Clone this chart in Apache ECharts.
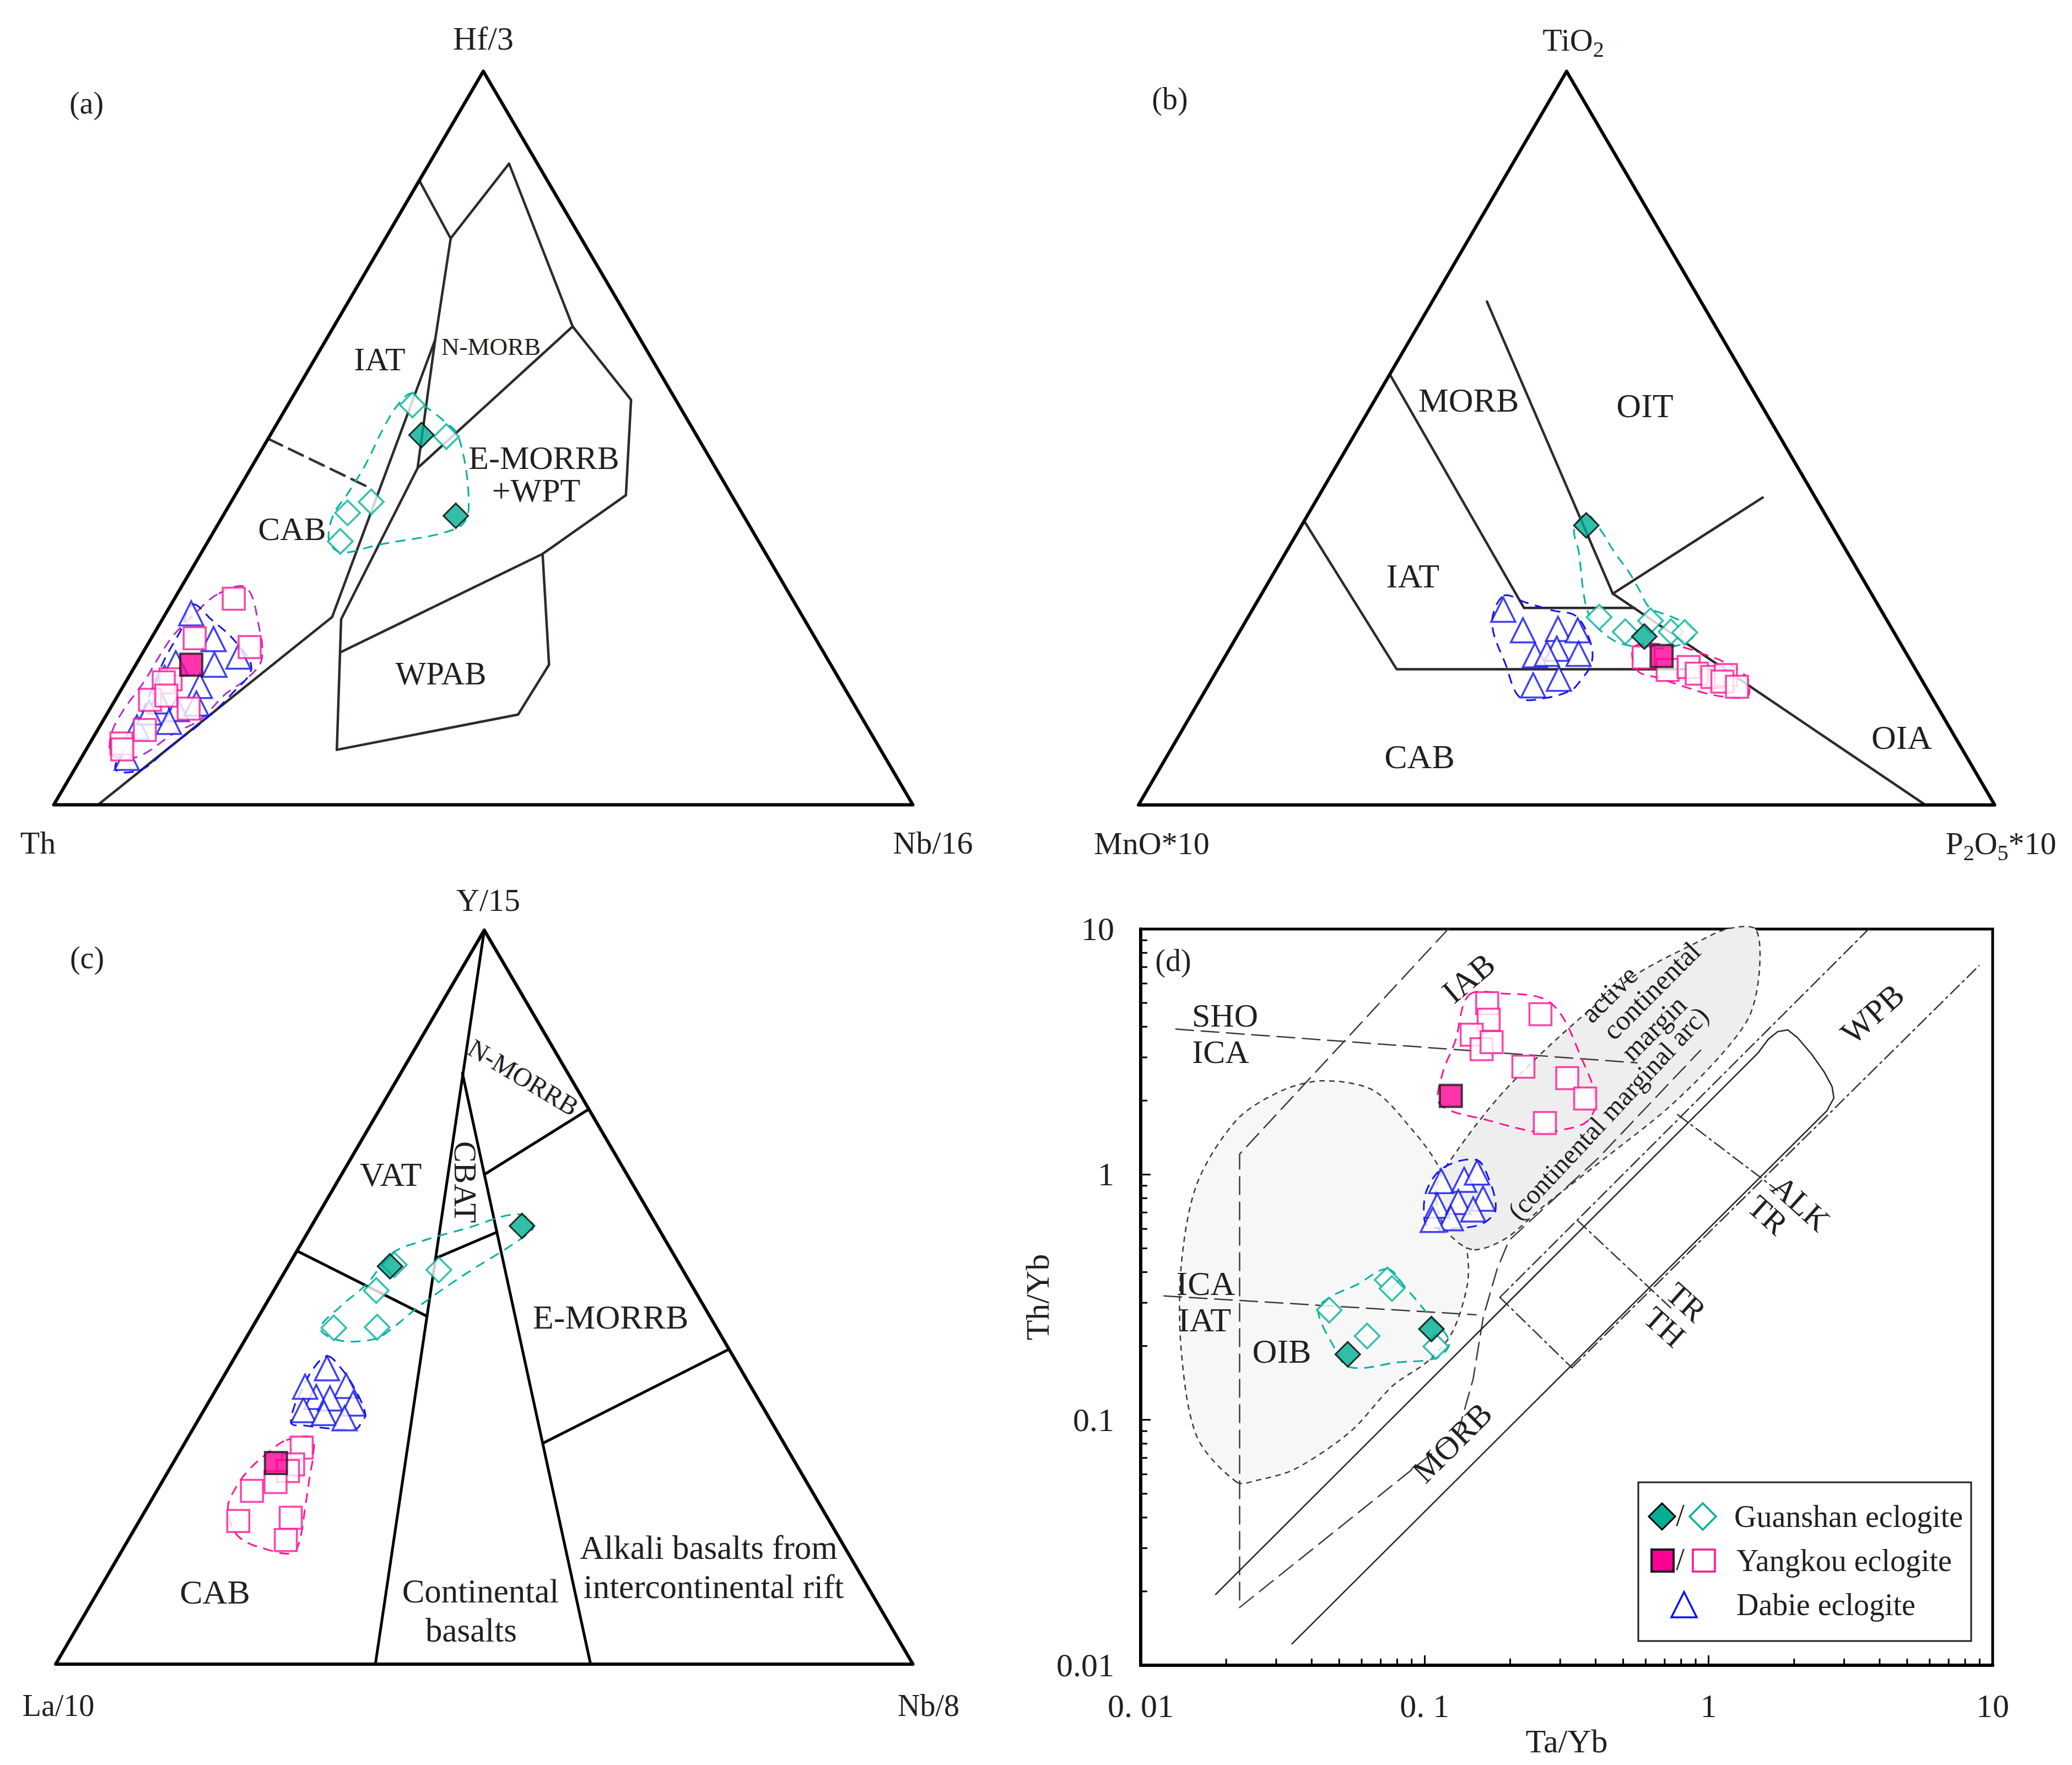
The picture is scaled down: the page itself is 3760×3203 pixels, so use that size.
<!DOCTYPE html>
<html>
<head>
<meta charset="utf-8">
<title>Tectonic discrimination diagrams</title>
<script src="https://cdn.jsdelivr.net/npm/echarts@6.0.0/dist/echarts.min.js"></script>
<style>
html,body{margin:0;padding:0;background:#fff;}
#chart{width:3760px;height:3203px;}
</style>
</head>
<body>
<div id="chart"></div>
<script>
// ===================== DATA =====================
// Ternary points are [top %, right %] (left = 100 - top - right)

// ---- Panel (a): Hf/3 (top) - Th (left) - Nb/16 (right)
const aFieldMain  = [[0,5.15],[25.6,19.6],[63.4,12.7],[77.2,7.6],[85.1,0]];
const aFieldNMorb = [[77.2,7.6],[87.4,9.3],[65.2,27.8],[55.2,39.6],[42.2,45.5],[34.2,39.8]];
const aFieldB     = [[63.4,12.7],[45.9,19.4],[25.3,20.8],[7.5,29.2]];
const aFieldE     = [[45.9,19.4],[65.2,27.8]];
const aFieldWpab  = [[20.8,23.0],[34.2,39.8],[19.1,48.1],[12.3,47.9],[7.5,29.2]];
const aFieldDash  = [[49.9,0],[43.2,15.2]];
const aGuanFilled = [[50.4,17.6],[39.4,27.1]];
const aGuanOpen   = [[54.5,14.5],[50.2,20.6],[41.3,16.3],[39.8,14.3],[35.9,15.4]];
const aYangFilled = [[19.1,6.45]];
const aYangOpen   = [[28.1,6.9],[22.7,5.05],[21.5,12.05],[17.1,5.05],[16.7,4.45],[14.3,4.05],[14.9,5.65],[13.1,9.15],[10.2,5.5],[8.35,3.7],[7.55,4.2]];
const aDabie      = [[26.1,2.95],[22.6,7.3],[19.3,4.55],[19.1,9.15],[20.2,11.4],[16.2,8.9],[17.3,4.25],[14.1,5.25],[13.05,7.8],[13.8,9.7],[11.3,7.75],[10.55,4.4],[6.4,5.3],[12.6,4.8]];
const aEnvGuan  = [[56.1,13.6],[54.5,15.8],[52.5,19.0],[50.1,22.1],[40.4,28.1],[37.7,28.1],[35.4,19.9],[34.4,16.3],[35.9,14.1],[39.4,12.8],[42.4,13.0],[46.4,13.1],[51.4,12.7],[54.6,12.8]];
const aEnvYang  = [[28.8,4.8],[29.6,7.6],[24.2,11.8],[19.8,14.3],[17.3,13.95],[15.1,12.45],[11.55,11.2],[9.8,9.15],[6.55,6.5],[6.8,3.4],[9.55,1.9],[12.8,1.65],[16.6,2.1],[22.6,2.3],[25.8,3.3]];
const aEnvDabie = [[27.3,2.55],[25.3,5.65],[22.3,9.95],[18.6,13.7],[15.1,13.15],[11.3,11.65],[7.8,9.5],[4.8,7.8],[4.8,4.8],[8.55,4.2],[13.05,3.9],[19.6,3.0],[23.6,2.9]];

// ---- Panel (b): TiO2 (top) - MnO*10 (left) - P2O5*10 (right)
const bFieldMorb = [[58.7,0],[26.85,31.6],[26.85,44.5]];
const bFieldIat  = [[38.7,0],[18.5,20.9],[18.5,59.2]];
const bFieldOit  = [[68.6,6.4],[28.8,41.0]];
const bFieldOia  = [[28.8,41.0],[41.9,51.95]];
const bFieldCab  = [[28.8,41.0],[0,91.9]];
const bGuanFilled = [[38.1,33.25],[22.96,47.6]];
const bGuanOpen   = [[25.6,41.0],[23.6,45.05],[25.1,47.25],[23.6,50.4],[23.5,52.05]];
const bYangFilled = [[20.3,50.95]];
const bYangOpen   = [[20.1,48.95],[18.4,52.6],[18.8,54.85],[17.9,56.25],[17.45,58.3],[17.7,59.75],[16.8,59.8],[16.1,61.85]];
const bDabie      = [[26.6,29.3],[23.8,33.0],[24.0,37.0],[23.8,39.4],[20.4,36.1],[21.3,38.2],[20.6,37.4],[20.6,41.1],[16.3,37.95],[17.2,40.5]];
const bEnvGuan  = [[37.6,32.1],[34.6,34.1],[26.85,38.9],[24.1,41.65],[22.3,44.55],[21.6,47.0],[21.3,48.75],[21.7,52.05],[23.1,53.35],[24.6,51.7],[25.8,49.05],[26.85,46.3],[29.35,43.8],[31.6,41.55],[34.6,38.2],[37.6,35.1],[39.6,32.5]];
const bEnvYang  = [[21.6,47.1],[21.7,51.8],[20.6,55.6],[19.6,58.4],[18.3,61.05],[17.1,62.6],[14.8,63.75],[14.7,61.5],[15.2,58.7],[16.1,55.75],[17.3,52.15],[18.3,49.15]];
const bEnvDabie = [[28.5,28.4],[27.6,31.4],[26.5,35.15],[25.7,38.3],[22.1,41.75],[19.3,43.25],[16.6,43.1],[15.6,42.7],[14.6,40.4],[14.6,37.3],[19.1,33.35],[24.8,28.9]];

// ---- Panel (c): Y/15 (top) - La/10 (left) - Nb/8 (right)
const cField1    = [[100,0],[0,37.3]];
const cField2    = [[80.5,7.2],[0,62.4]];
const cFieldVat  = [[56.3,0],[47.4,19.6]];
const cFieldCbat = [[55.3,16.7],[58.85,22.05]];
const cFieldNm   = [[66.7,16.66],[75.6,24.4]];
const cFieldEm   = [[30.1,41.8],[42.9,57.1]];
const cGuanFilled = [[59.7,24.55],[54.2,11.9]];
const cGuanOpen   = [[54.4,12.3],[53.7,17.85],[50.9,11.95],[45.8,9.55],[45.9,14.55]];
const cYangFilled = [[27.4,12.0]];
const cYangOpen   = [[29.5,13.95],[27.2,14.1],[26.3,13.95],[24.8,13.25],[23.6,11.1],[19.5,11.55],[19.95,17.45],[16.9,18.4]];
const cDabie      = [[40.3,11.5],[37.9,14.95],[36.4,12.2],[36.2,13.9],[35.5,16.95],[34.6,11.6],[34.2,14.2],[37.8,10.2],[33.5,16.95]];
const cEnvGuan  = [[61.3,23.2],[59.65,25.9],[57.6,25.05],[53.3,21.35],[48.96,18.15],[45.7,16.35],[44.3,15.15],[44.1,11.05],[45.7,8.05],[48.6,8.8],[51.8,10.4],[55.95,11.25],[57.6,13.85],[59.4,18.3]];
const cEnvDabie = [[41.95,10.7],[40.3,13.15],[37.5,16.15],[34.05,19.1],[32.8,19.2],[32.1,19.05],[32.1,15.95],[32.5,12.85],[32.8,11.1],[35.7,10.15],[36.75,10.1],[40.0,9.9]];
const cEnvYang  = [[30.5,11.65],[30.8,14.5],[28.1,15.95],[26.0,16.7],[21.3,18.45],[17.0,20.0],[15.2,20.1],[15.4,17.6],[17.4,12.6],[21.3,9.45],[23.8,9.0],[26.3,9.25],[28.85,10.4]];

// ---- Panel (d): Ta/Yb (x) vs Th/Yb (y)
const dXTickValues = [0.01, 0.1, 1, 10];
const dXTickLabels = ['0. 01', '0. 1', '1', '10'];
const dYTickValues = [0.01, 0.1, 1, 10];
const dYTickLabels = ['0.01', '0.1', '1', '10'];
const dMinorTicks = [0.02,0.03,0.04,0.05,0.06,0.07,0.08,0.09,0.2,0.3,0.4,0.5,0.6,0.7,0.8,0.9,2,3,4,5,6,7,8,9];
const dGuanFilled = [[0.0536,0.185],[0.1056,0.2345]];
const dGuanOpen   = [[0.0461,0.280],[0.0738,0.3715],[0.0767,0.343],[0.0627,0.2196],[0.1095,0.199]];
const dYangFilled = [[0.1236,2.09]];
const dYangOpen   = [[0.166,4.99],[0.168,4.27],[0.2556,4.50],[0.1464,3.71],[0.1586,3.24],[0.172,3.46],[0.2226,2.75],[0.3177,2.47],[0.3674,2.04],[0.265,1.62]];
const dDabie      = [[0.1143,0.940],[0.1377,0.951],[0.1529,1.019],[0.1108,0.746],[0.1313,0.773],[0.1605,0.797],[0.1482,0.720],[0.1236,0.663],[0.1068,0.653]];
const dEnvGuan  = [[0.0738,0.412],[0.0849,0.350],[0.103,0.268],[0.1221,0.208],[0.1108,0.1795],[0.0809,0.1717],[0.0542,0.1642],[0.0475,0.202],[0.0421,0.280],[0.0463,0.3155],[0.0576,0.355]];
const dEnvYang  = [[0.1429,5.37],[0.182,5.48],[0.278,4.99],[0.363,2.84],[0.40,1.987],[0.372,1.639],[0.299,1.512],[0.2587,1.477],[0.1673,1.662],[0.1135,1.929],[0.1149,2.52],[0.1281,3.49]];
const dEnvDabie = [[0.1163,1.065],[0.1518,1.147],[0.1673,0.975],[0.1778,0.724],[0.1613,0.634],[0.1345,0.606],[0.103,0.615],[0.0994,0.682],[0.1018,0.866]];
const dOibField = [[0.0218,0.0557],[0.0158,0.085],[0.0139,0.19],[0.0139,0.43],[0.0158,0.92],[0.0218,1.67],[0.0315,2.2],[0.0442,2.41],[0.066,2.2],[0.0913,1.5],[0.1108,1.1],[0.13,0.7],[0.1413,0.478],[0.1413,0.355],[0.1251,0.2275],[0.103,0.174],[0.077,0.1374],[0.055,0.09],[0.035,0.0631],[0.0255,0.0566]];
const dAcmField = [[0.1466,0.4946],[0.1186,0.598],[0.1095,0.874],[0.1318,1.277],[0.191,2.195],[0.3246,3.985],[0.551,6.49],[0.937,8.98],[1.16,10],[1.46,10],[1.51,6.85],[1.394,4.44],[1.098,3.04],[0.719,1.866],[0.4236,1.146],[0.2626,0.743],[0.191,0.5445]];
const dArcUpper = [[0.121,10],[0.0223,1.21],[0.0223,0.0172]];
const dArcLower = [[0.0223,0.0172],[0.131,0.0886],[0.148,0.146],[0.161,0.264],[0.18,0.412],[0.198,0.538],[0.408,1.165],[0.937,3.21]];
const dShoIca = [[0.0133,3.91],[0.56,2.85]];
const dIcaIat = [[0.01208,0.320],[0.1518,0.268]];
const dArray  = [[0.01837,0.01945],[1.493,3.13],[1.62,3.55],[1.75,3.82],[1.90,3.88],[2.05,3.62],[2.3,3.1],[2.55,2.62],[2.72,2.28],[2.76,2.05],[2.61,1.82],[0.0341,0.01222]];
const dDashDot1 = [[0.184,0.3155],[3.66,10]];
const dDashDot2 = [[0.33,0.163],[8.95,7.09]];
const dCrossAlk = [[0.778,1.754],[1.75,0.86]];
const dCrossTh  = [[0.345,0.65],[0.75,0.28]];
const dCrossEnd = [[0.184,0.3155],[0.33,0.163]];

// ===================== RENDERING =====================
const FONT = '"Liberation Serif", "Times New Roman", serif';
const INK = '#231f20';
const FIELD = '#2f2a29';
const CYAN = '#00b09e', CYAN_FILL = '#00ae94', PINK = '#ff1493', PINK_FILL = '#ff0095', BLUE = '#1010f0';
const tern = p => [p[1] + p[0] / 2, p[0]];
const triangle = [[0,0],[0,100],[100,0],[0,0]];

function polyline(g, pts, color, width, dash, isTern, z) {
  return { type:'line', xAxisIndex:g, yAxisIndex:g, data: isTern ? pts.map(tern) : pts,
    symbol:'none', silent:true, animation:false, clip: !isTern, z: z || 2,
    lineStyle:{ color, width, type: dash || 'solid', cap:'round', join:'round' } };
}
function points(g, pts, symbol, size, item, z, isTern) {
  return { type:'scatter', xAxisIndex:g, yAxisIndex:g, data: isTern ? pts.map(tern) : pts,
    symbol, symbolSize:size, itemStyle:item, silent:true, animation:false, z, clip:false };
}
function region(g, pts, stroke, width, dash, fill, smooth, isTern, z) {
  return { type:'custom', xAxisIndex:g, yAxisIndex:g, data:[isTern ? [50,50] : [1,1]],
    silent:true, animation:false, z,
    renderItem: (params, api) => ({ type:'polygon',
      shape:{ points: pts.map(p => api.coord(isTern ? tern(p) : p)), smooth },
      style:{ fill: fill || 'none', stroke, lineWidth: width, lineDash: dash } }) };
}
function ticks(g, values, dir) {
  return { type:'custom', xAxisIndex:g, yAxisIndex:g, silent:true, animation:false, z:10, clip:false,
    data: values.map(v => dir === 'x' ? [v, 0.01] : [0.01, v]),
    renderItem: (params, api) => {
      const p = api.coord([api.value(0), api.value(1)]);
      return dir === 'x'
        ? { type:'line', shape:{ x1:p[0], y1:p[1], x2:p[0], y2:p[1] - 12 }, style:{ stroke:'#000', lineWidth:3 } }
        : { type:'line', shape:{ x1:p[0], y1:p[1], x2:p[0] + 12, y2:p[1] }, style:{ stroke:'#000', lineWidth:3 } };
    } };
}
const sGF = { color:CYAN_FILL, borderColor:'#000', borderWidth:3 };
const sGO = { color:'#fff', borderColor:CYAN, borderWidth:3.5 };
const sYF = { color:PINK_FILL, borderColor:'#1a1a1a', borderWidth:4 };
const sYO = { color:'#fff', borderColor:PINK, borderWidth:3.5 };
const sDB = { color:'#fff', borderColor:BLUE, borderWidth:3.5 };
const ENV_DASH = [18, 12];

function ternPanel(g, fields, fieldWidth, fieldColor, dashed, envs, pts) {
  const s = [];
  s.push(polyline(g, triangle, '#000', 6, 'solid', true, 3));
  fields.forEach(f => s.push(polyline(g, f, fieldColor, fieldWidth, 'solid', true, 2)));
  dashed.forEach(f => s.push(polyline(g, f, '#333', 4.5, [28,14], true, 2)));
  envs.forEach(e => s.push(region(g, e[0], e[1], 3, ENV_DASH, null, 0.35, true, 3)));
  s.push(points(g, pts.dabie, 'triangle', 44, sDB, 4, true));
  s.push(points(g, pts.yangOpen, 'rect', 40, sYO, 5, true));
  s.push(points(g, pts.yangFilled, 'rect', 40, sYF, 6, true));
  s.push(points(g, pts.guanOpen, 'diamond', 45, sGO, 5, true));
  s.push(points(g, pts.guanFilled, 'diamond', 45, sGF, 6, true));
  return s;
}

const series = [].concat(
  ternPanel(0, [aFieldMain, aFieldNMorb, aFieldB, aFieldE, aFieldWpab], 4.5, FIELD, [aFieldDash],
    [[aEnvYang,'#b42cc8'],[aEnvDabie,BLUE],[aEnvGuan,CYAN]],
    {dabie:aDabie, yangOpen:aYangOpen, yangFilled:aYangFilled, guanOpen:aGuanOpen, guanFilled:aGuanFilled}),
  ternPanel(1, [bFieldMorb, bFieldIat, bFieldOit, bFieldOia, bFieldCab], 4.5, FIELD, [],
    [[bEnvYang,PINK],[bEnvDabie,BLUE],[bEnvGuan,CYAN]],
    {dabie:bDabie, yangOpen:bYangOpen, yangFilled:bYangFilled, guanOpen:bGuanOpen, guanFilled:bGuanFilled}),
  ternPanel(2, [cField1, cField2, cFieldVat, cFieldCbat, cFieldNm, cFieldEm], 5, '#000', [],
    [[cEnvYang,PINK],[cEnvDabie,BLUE],[cEnvGuan,CYAN]],
    {dabie:cDabie, yangOpen:cYangOpen, yangFilled:cYangFilled, guanOpen:cGuanOpen, guanFilled:cGuanFilled}),
  [
    region(3, dOibField, '#3a3a3a', 2.5, [10,8], '#f7f7f7', 0.3, false, 1),
    region(3, dAcmField, '#3a3a3a', 2.5, [10,8], '#eeeeee', 0.3, false, 1),
    polyline(3, dArcUpper, '#3a3a3a', 2.5, [32,14], false, 2),
    polyline(3, dArcLower, '#3a3a3a', 2.5, [32,14], false, 2),
    polyline(3, dShoIca, '#3a3a3a', 2.5, [32,14], false, 2),
    polyline(3, dIcaIat, '#3a3a3a', 2.5, [32,14], false, 2),
    polyline(3, dArray, '#222', 2.5, 'solid', false, 2),
    polyline(3, dDashDot1, '#333', 2.5, [22,8,4,8], false, 2),
    polyline(3, dDashDot2, '#333', 2.5, [22,8,4,8], false, 2),
    polyline(3, dCrossAlk, '#333', 2.5, [22,8,4,8], false, 2),
    polyline(3, dCrossTh, '#333', 2.5, [22,8,4,8], false, 2),
    polyline(3, dCrossEnd, '#333', 2.5, [22,8,4,8], false, 2),
    region(3, dEnvYang, PINK, 3, ENV_DASH, null, 0.35, false, 3),
    region(3, dEnvDabie, BLUE, 3, ENV_DASH, null, 0.35, false, 3),
    region(3, dEnvGuan, CYAN, 3, ENV_DASH, null, 0.35, false, 3),
    points(3, dDabie, 'triangle', 44, sDB, 4, false),
    points(3, dYangOpen, 'rect', 40, sYO, 5, false),
    points(3, dYangFilled, 'rect', 40, sYF, 6, false),
    points(3, dGuanOpen, 'diamond', 45, sGO, 5, false),
    points(3, dGuanFilled, 'diamond', 45, sGF, 6, false),
    ticks(3, dMinorTicks, 'x'),
    ticks(3, dMinorTicks, 'y')
  ]
);

function txt(x, y, text, size, rot, align, rich) {
  const st = { text, font: size + 'px ' + FONT, fill: INK,
    align: align || 'center', verticalAlign:'middle', textAlign: align || 'center', textVerticalAlign:'middle' };
  if (rich) st.rich = rich;
  return { type:'text', x, y, rotation: (rot || 0) * Math.PI / 180, silent:true, z:100, style: st };
}
const subRich = {
  m:{ font:'58px ' + FONT, fill:INK, lineHeight:74, verticalAlign:'middle' },
  s:{ font:'40px ' + FONT, fill:INK, lineHeight:42, verticalAlign:'bottom' }
};

const graphics = [
  // panel a
  txt(877, 70, 'Hf/3', 60), txt(69, 1529, 'Th', 58), txt(1693, 1529, 'Nb/16', 58),
  txt(157, 187, '(a)', 56),
  txt(689, 652, 'IAT', 60), txt(891, 629, 'N-MORB', 45), txt(987, 831, 'E-MORRB', 60),
  txt(973, 890, '+WPT', 60), txt(530, 960, 'CAB', 60), txt(800, 1222, 'WPAB', 59),
  // panel b
  txt(2855, 72, '{m|TiO}{s|2}', 58, 0, 'center', subRich),
  txt(2090, 1530, 'MnO*10', 58),
  txt(3631, 1530, '{m|P}{s|2}{m|O}{s|5}{m|*10}', 58, 0, 'center', subRich),
  txt(2123, 179, '(b)', 56),
  txt(2665, 726, 'MORB', 62), txt(2985, 736, 'OIT', 62), txt(2564, 1045, 'IAT', 62),
  txt(2576, 1373, 'CAB', 62), txt(3451, 1338, 'OIA', 62),
  // panel c
  txt(886, 1633, 'Y/15', 58), txt(106, 3095, 'La/10', 56), txt(1685, 3095, 'Nb/8', 56),
  txt(158, 1738, '(c)', 56),
  txt(709, 2131, 'VAT', 62), txt(844, 2145, 'CBAT', 58, -90), txt(950, 1955, 'N-MORRB', 48, -31),
  txt(1108, 2390, 'E-MORRB', 62), txt(390, 2889, 'CAB', 62),
  txt(872, 2887, 'Continental', 61), txt(855, 2958, 'basalts', 61),
  txt(1286, 2808, 'Alkali basalts from', 61), txt(1295, 2879, 'intercontinental rift', 61),
  // panel d
  txt(2129, 1743, '(d)', 56),
  txt(2665, 1775, 'IAB', 60, 40),
  txt(2223, 1843, 'SHO', 60), txt(2215, 1909, 'ICA', 60),
  txt(2188, 2329, 'ICA', 62), txt(2186, 2395, 'IAT', 62),
  txt(2326, 2452, 'OIB', 62),
  txt(2635, 2618, 'MORB', 60, 45),
  txt(3398, 1840, 'WPB', 60, 42),
  txt(3268, 2184, 'ALK', 58, -42), txt(3208, 2205, 'TR', 58, -42),
  txt(3060, 2363, 'TR', 58, -42), txt(3021, 2408, 'TH', 58, -42),
  txt(2920, 1804, 'active', 51, 45), txt(2997, 1798, 'continental', 51, 45), txt(3001, 1866, 'margin', 51, 45),
  txt(2918, 2020, '(continental marginal arc)', 49, 47),
  // legend
  { type:'rect', shape:{ x:2973, y:2690, width:604, height:288 }, style:{ fill:'#fff', stroke:'#231f20', lineWidth:3 }, z:90, silent:true },
  { type:'polygon', shape:{ points:[[3016,2728],[3040,2752],[3016,2776],[2992,2752]] }, style:{ fill:CYAN_FILL, stroke:'#000', lineWidth:3 }, z:95, silent:true },
  txt(3049, 2750, '/', 56),
  { type:'polygon', shape:{ points:[[3090,2728],[3114,2752],[3090,2776],[3066,2752]] }, style:{ fill:'#fff', stroke:CYAN, lineWidth:3.5 }, z:95, silent:true },
  txt(3147, 2752, 'Guanshan eclogite', 56, 0, 'left'),
  { type:'rect', shape:{ x:2997, y:2812, width:40, height:40 }, style:{ fill:PINK_FILL, stroke:'#1a1a1a', lineWidth:4 }, z:95, silent:true },
  txt(3049, 2830, '/', 56),
  { type:'rect', shape:{ x:3072, y:2812, width:40, height:40 }, style:{ fill:'#fff', stroke:PINK, lineWidth:3.5 }, z:95, silent:true },
  txt(3151, 2832, 'Yangkou eclogite', 56, 0, 'left'),
  { type:'polygon', shape:{ points:[[3056,2889],[3079,2935],[3033,2935]] }, style:{ fill:'#fff', stroke:BLUE, lineWidth:3.5 }, z:95, silent:true },
  txt(3151, 2912, 'Dabie eclogite', 56, 0, 'left')
];

const hiddenX = g => ({ gridIndex:g, type:'value', min:0, max:100, show:false });
const hiddenY = g => ({ gridIndex:g, type:'value', min:0, max:100, show:false });
const labelFmt = (vals, labs) => v => {
  const i = vals.findIndex(t => Math.abs(Math.log10(t) - Math.log10(v)) < 1e-6);
  return i >= 0 ? labs[i] : '';
};

const option = {
  backgroundColor:'#fff',
  animation:false,
  grid:[
    { left:97.6, top:129.2, width:1558.9, height:1331.3 },
    { left:2066, top:129.4, width:1553.7, height:1331.3 },
    { left:101, top:1687.9, width:1555.6, height:1332 },
    { left:2070, top:1686, width:1546, height:1336, show:true, borderColor:'#000', borderWidth:5 }
  ],
  xAxis:[
    hiddenX(0), hiddenX(1), hiddenX(2),
    { gridIndex:3, type:'log', logBase:10, min:0.01, max:10,
      axisLine:{ show:true, onZero:false, lineStyle:{ color:'#000', width:6 } },
      axisTick:{ show:true, inside:true, length:18, lineStyle:{ color:'#000', width:3 } },
      axisLabel:{ margin:44, fontFamily:FONT, fontSize:60, color:INK, formatter: labelFmt(dXTickValues, dXTickLabels) },
      splitLine:{ show:false }, minorTick:{ show:false },
      name:'Ta/Yb', nameLocation:'middle', nameGap:108,
      nameTextStyle:{ fontFamily:FONT, fontSize:60, color:INK } }
  ],
  yAxis:[
    hiddenY(0), hiddenY(1), hiddenY(2),
    { gridIndex:3, type:'log', logBase:10, min:0.01, max:10,
      axisLine:{ show:true, onZero:false, lineStyle:{ color:'#000', width:6 } },
      axisTick:{ show:true, inside:true, length:18, lineStyle:{ color:'#000', width:3 } },
      axisLabel:{ margin:48, fontFamily:FONT, fontSize:60, color:INK, formatter: labelFmt(dYTickValues, dYTickLabels) },
      splitLine:{ show:false },
      name:'Th/Yb', nameLocation:'middle', nameGap:104, nameRotate:90,
      nameTextStyle:{ fontFamily:FONT, fontSize:60, color:INK } }
  ],
  graphic: graphics,
  series
};

const chart = echarts.init(document.getElementById('chart'), null, { renderer:'svg', width:3760, height:3203 });
chart.setOption(option);
</script>
</body>
</html>
